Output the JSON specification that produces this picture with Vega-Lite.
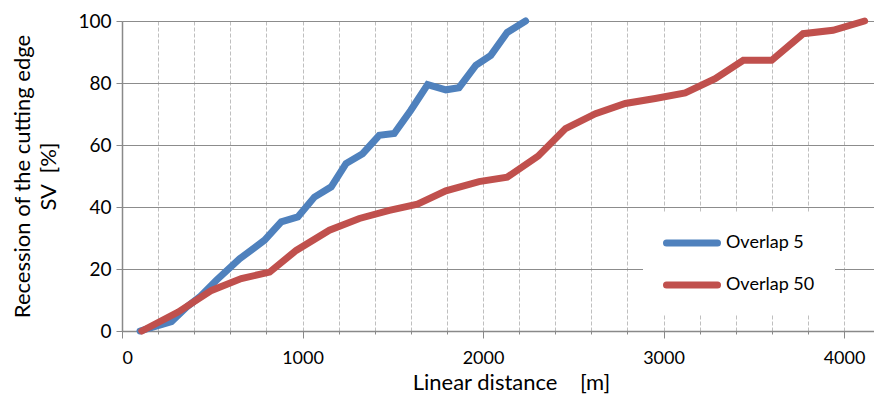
{
  "$schema": "https://vega.github.io/schema/vega-lite/v6.json",
  "width": 752,
  "height": 310,
  "autosize": {"type": "none"},
  "padding": {"left": 122, "top": 21, "right": 0, "bottom": 66},
  "background": "white",
  "config": {
    "font": "Lato",
    "view": {"stroke": null},
    "axis": {"labelFont": "Lato", "titleFont": "Lato", "labelColor": "black", "titleColor": "black", "titleFontWeight": "normal", "domainColor": "#898989", "tickColor": "#898989", "gridColor": "#898989"}
  },
  "data": {
    "values": [
      {"series": "Overlap 5", "x": 100, "y": 0},
      {"series": "Overlap 5", "x": 274, "y": 3},
      {"series": "Overlap 5", "x": 357, "y": 7.7},
      {"series": "Overlap 5", "x": 431, "y": 11},
      {"series": "Overlap 5", "x": 523, "y": 16.4},
      {"series": "Overlap 5", "x": 652, "y": 23.3},
      {"series": "Overlap 5", "x": 790, "y": 29.3},
      {"series": "Overlap 5", "x": 882, "y": 35.2},
      {"series": "Overlap 5", "x": 974, "y": 36.8},
      {"series": "Overlap 5", "x": 1066, "y": 43.2},
      {"series": "Overlap 5", "x": 1159, "y": 46.5},
      {"series": "Overlap 5", "x": 1241, "y": 54},
      {"series": "Overlap 5", "x": 1333, "y": 57.2},
      {"series": "Overlap 5", "x": 1425, "y": 63.1},
      {"series": "Overlap 5", "x": 1508, "y": 63.7},
      {"series": "Overlap 5", "x": 1600, "y": 71.2},
      {"series": "Overlap 5", "x": 1693, "y": 79.5},
      {"series": "Overlap 5", "x": 1794, "y": 77.8},
      {"series": "Overlap 5", "x": 1867, "y": 78.5},
      {"series": "Overlap 5", "x": 1960, "y": 85.7},
      {"series": "Overlap 5", "x": 2043, "y": 88.9},
      {"series": "Overlap 5", "x": 2134, "y": 96.3},
      {"series": "Overlap 5", "x": 2236, "y": 100},
      {"series": "Overlap 50", "x": 110, "y": 0},
      {"series": "Overlap 50", "x": 311, "y": 6.1},
      {"series": "Overlap 50", "x": 496, "y": 13.1},
      {"series": "Overlap 50", "x": 661, "y": 16.9},
      {"series": "Overlap 50", "x": 818, "y": 19},
      {"series": "Overlap 50", "x": 965, "y": 26},
      {"series": "Overlap 50", "x": 1149, "y": 32.5},
      {"series": "Overlap 50", "x": 1315, "y": 36.3},
      {"series": "Overlap 50", "x": 1481, "y": 38.9},
      {"series": "Overlap 50", "x": 1637, "y": 40.9},
      {"series": "Overlap 50", "x": 1794, "y": 45.2},
      {"series": "Overlap 50", "x": 1978, "y": 48.2},
      {"series": "Overlap 50", "x": 2134, "y": 49.6},
      {"series": "Overlap 50", "x": 2305, "y": 56.4},
      {"series": "Overlap 50", "x": 2457, "y": 65.3},
      {"series": "Overlap 50", "x": 2623, "y": 70.1},
      {"series": "Overlap 50", "x": 2788, "y": 73.4},
      {"series": "Overlap 50", "x": 2954, "y": 75},
      {"series": "Overlap 50", "x": 3120, "y": 76.8},
      {"series": "Overlap 50", "x": 3286, "y": 81.4},
      {"series": "Overlap 50", "x": 3442, "y": 87.3},
      {"series": "Overlap 50", "x": 3599, "y": 87.3},
      {"series": "Overlap 50", "x": 3773, "y": 95.9},
      {"series": "Overlap 50", "x": 3939, "y": 97},
      {"series": "Overlap 50", "x": 4114, "y": 100}
    ]
  },
  "mark": {"type": "line", "strokeWidth": 7, "strokeCap": "round", "strokeJoin": "miter", "clip": false},
  "encoding": {
    "x": {
      "field": "x", "type": "quantitative",
      "scale": {"domain": [0, 4166], "nice": false, "zero": true},
      "axis": {
        "title": "Linear distance\u00a0\u00a0\u00a0\u00a0[m]",
        "titleFontSize": 22,
        "titlePadding": 5,
        "titleX": 389,
        "titleAlign": "center",
        "values": [0,200,400,600,800,1000,1200,1400,1600,1800,2000,2200,2400,2600,2800,3000,3200,3400,3600,3800,4000],
        "format": "d",
        "labelExpr": "datum.value % 1000 === 0 ? datum.label : ''",
        "labelFontSize": 18,
        "labelPadding": 11,
        "grid": true,
        "gridColor": "#BFBFBF",
        "gridDash": [4, 2],
        "gridWidth": 1,
        "tickSize": {"condition": {"test": "datum.value % 1000 === 0", "value": 7}, "value": 3},
        "tickColor": "#898989",
        "domainColor": "#898989",
        "domainWidth": 1.5
      }
    },
    "y": {
      "field": "y", "type": "quantitative",
      "scale": {"domain": [0, 100], "nice": false},
      "axis": {
        "title": ["Recession of the cutting edge", "SV\u00a0\u00a0[%]"],
        "titleFontSize": 22,
        "titleLineHeight": 26,
        "titlePadding": 17,
        "values": [0, 20, 40, 60, 80, 100],
        "labelFontSize": 19,
        "labelPadding": 5,
        "tickSize": 6,
        "grid": true,
        "gridColor": "#8C8C8C",
        "gridWidth": 1.2,
        "domainColor": "#898989",
        "domainWidth": 1.5
      }
    },
    "color": {
      "field": "series", "type": "nominal",
      "scale": {"domain": ["Overlap 5", "Overlap 50"], "range": ["#4F81BD", "#C0504D"]},
      "legend": {
        "title": null,
        "orient": "none",
        "legendX": 521,
        "legendY": 192,
        "fillColor": "white",
        "padding": 20,
        "symbolType": "stroke",
        "symbolSize": 2601,
        "symbolStrokeWidth": 7,
        "clipHeight": 20,
        "rowPadding": 22,
        "labelFont": "Lato",
        "labelFontSize": 18,
        "labelColor": "black",
        "labelOffset": 5,
        "encode": {"symbols": {"update": {"strokeCap": {"value": "round"}}}}
      }
    }
  }
}
